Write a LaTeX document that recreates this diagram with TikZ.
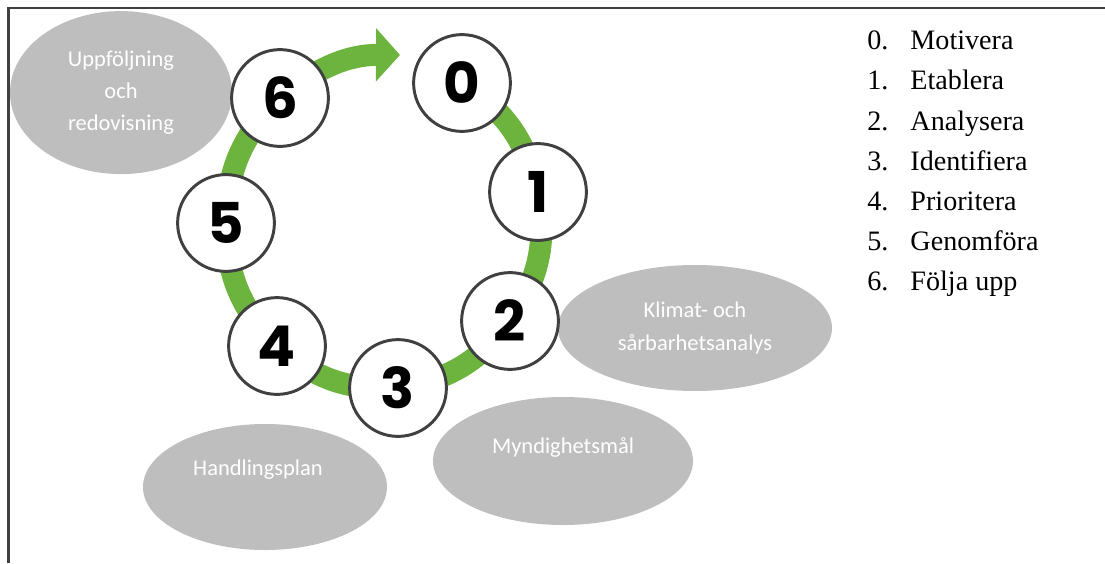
\documentclass[tikz,border=0pt]{standalone}
\usepackage{fontspec}
\usepackage{tikz}
\usetikzlibrary{arrows.meta, shapes.geometric, backgrounds}
\setmainfont{Liberation Serif}
\newfontfamily\blobfont{Carlito}
\newfontfamily\digitfont{Poppins}
\definecolor{leafgreen}{RGB}{108,180,62}
\definecolor{cloudgray}{RGB}{190,190,190}
\definecolor{ringgray}{RGB}{64,64,64}

\begin{document}
\begin{tikzpicture}[
    stage/.style={circle, draw=ringgray, line width=2.1pt, fill=white,
      minimum size=2.42cm, inner sep=0pt,
      font=\digitfont\bfseries\fontsize{40}{40}\selectfont},
    blob/.style={ellipse, fill=cloudgray, inner sep=0pt, text=white, align=center,
      font=\blobfont\fontsize{16}{22.8}\selectfont},
    blobtext/.style={text=white, inner sep=0pt, font=\blobfont\fontsize{16}{22.8}\selectfont},
    link/.style={draw=leafgreen, line width=0.55cm},
    item/.style={anchor=base west, inner sep=0pt, font=\fontsize{20}{24}\selectfont}
  ]
  \useasboundingbox (0,0) rectangle (27.625,14.075);
  \draw[ringgray, line width=1.5pt] (0.2125,0) |- (27.625,13.875);

  % grey bubbles
  \node[blob, minimum width=5.55cm, minimum height=4.075cm] (e6) at (3.025,11.76)
    {Uppföljning\\och\\redovisning};
  \node[blob, minimum width=6.85cm, minimum height=3.15cm] (e2) at (17.375,5.875)
    {Klimat- och\\sårbarhetsanalys};
  \node[blob, minimum width=6.1cm, minimum height=3.15cm,
    label={[blobtext, xshift=-0.175cm, yshift=0.425cm]center:Handlingsplan}] (e4) at (6.625,1.9) {};
  \node[blob, minimum width=6.5cm, minimum height=3.2cm,
    label={[blobtext, yshift=0.35cm]center:Myndighetsmål}] (e3) at (14.075,2.55) {};

  % the cycle
  \foreach \i/\x/\y in {0/11.55/12.0, 1/13.45/9.275, 2/12.75/6.05, 3/9.95/4.375,
                        4/6.925/5.425, 5/5.65/8.5, 6/7.0/11.625}
    \node[stage] (c\i) at (\x,\y) {\i};
  \coordinate (tip) at (10.0,12.7);

  \begin{scope}[on background layer]
    \foreach \a/\b in {0/1, 1/2, 2/3, 3/4, 4/5, 5/6}
      \draw[link] (c\a.center) to[bend left=22] (c\b.center);
    \draw[link, -{Triangle[width=1.3cm, length=0.6cm]}] (c6.center) to[bend left=20] (tip);
  \end{scope}

  % step list
  \foreach \i/\t in {0/Motivera, 1/Etablera, 2/Analysera, 3/Identifiera,
                     4/Prioritera, 5/Genomföra, 6/Följa upp}
    \node[item] (l\i) at (21.675,12.825-\i) {\makebox[1.08cm][l]{\i.}\t};

\end{tikzpicture}
\end{document}
